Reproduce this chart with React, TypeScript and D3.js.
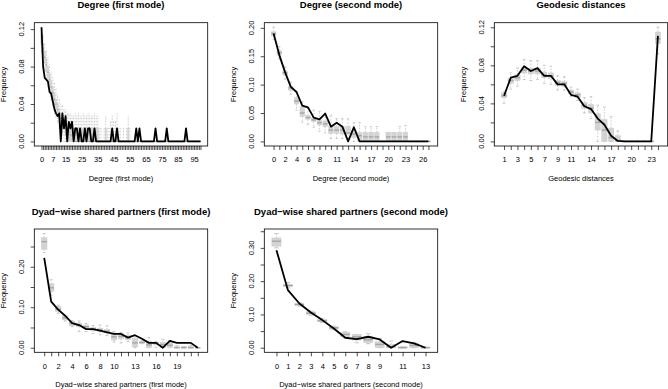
import * as d3 from 'd3';
import { useEffect, useRef } from 'react';

// ---- Degree (first mode): positions 0..99 ----
const degree1Count = 100;
const degree1ObsHead = [0.122, 0.080, 0.068, 0.066, 0.064, 0.053, 0.051, 0.043, 0.035, 0.030,
  0.027, 0.030, 0.000, 0.030, 0.014, 0.027, 0.000, 0.021, 0.014, 0.021,
  0.000, 0.014, 0.014, 0.000, 0.014, 0.000, 0.000, 0.014, 0.000, 0.014,
  0.014, 0.000, 0.000, 0.014, 0.000];
const degree1Spikes = [44, 47, 59, 61, 71, 78, 90];
const degree1SpikeValue = 0.014;
const degree1Lo = [0.095, 0.085, 0.075, 0.066, 0.058, 0.052, 0.044, 0.038, 0.030, 0.025, 0.020, 0.014, 0.010, 0.007];
const degree1Q1 = [0.104, 0.093, 0.084, 0.075, 0.068, 0.060, 0.052, 0.046, 0.040, 0.034, 0.029, 0.024, 0.019, 0.014, 0.014, 0.007, 0.007];
const degree1Med = [0.110, 0.099, 0.090, 0.082, 0.074, 0.066, 0.058, 0.052, 0.045, 0.040, 0.034, 0.029, 0.025, 0.021, 0.018, 0.014, 0.014, 0.010, 0.007, 0.007, 0.007];
const degree1Q3 = [0.115, 0.104, 0.096, 0.088, 0.080, 0.072, 0.064, 0.058, 0.051, 0.045,
  0.040, 0.034, 0.030, 0.027, 0.024, 0.021, 0.018, 0.014, 0.014, 0.014,
  0.014, 0.014, 0.014, 0.014, 0.014, 0.014, 0.014, 0.014, 0.014, 0.014,
  0.014, 0.014, 0.014, 0.014, 0.014, 0.014, 0.000, 0.000, 0.000, 0.000,
  0.014, 0.000, 0.000, 0.000, 0.007, 0.000, 0.000, 0.014, 0.000, 0.000,
  0.000, 0.000, 0.000, 0.000, 0.014, 0.000];
const degree1Hi = [0.122, 0.113, 0.105, 0.097, 0.090, 0.082, 0.074, 0.068, 0.062, 0.056,
  0.050, 0.045, 0.040, 0.038, 0.034, 0.034, 0.030, 0.030, 0.030, 0.027,
  0.027, 0.030, 0.027, 0.030, 0.027, 0.027, 0.030, 0.027, 0.027, 0.030,
  0.027, 0.027, 0.027, 0.030, 0.027, 0.027, 0.014, 0.014, 0.000, 0.014,
  0.027, 0.014, 0.014, 0.021, 0.027, 0.021, 0.021, 0.030, 0.014, 0.014,
  0.000, 0.014, 0.000, 0.014, 0.027, 0.014];
const degree1XLabels = [0, 7, 15, 25, 35, 45, 55, 65, 75, 85, 95];
const degree1YTicks = [0, 0.02, 0.04, 0.06, 0.08, 0.10, 0.12];
const degree1YLabels = [0, 0.04, 0.08, 0.12];

// ---- Degree (second mode): positions 0..27 ----
const degree2Obs = [0.190, 0.152, 0.122, 0.096, 0.087, 0.063, 0.060, 0.042, 0.039, 0.049,
  0.026, 0.033, 0.026, 0.000, 0.025, 0, 0, 0, 0, 0, 0, 0, 0, 0, 0, 0, 0, 0];
const degree2Lo = [0.180, 0.145, 0.110, 0.083, 0.055, 0.034, 0.030, 0.025, 0.018, 0.015,
  0.005, 0.005, 0.005, 0.005, 0, 0, 0, 0, 0, 0, 0, 0, 0, 0, 0, 0, 0, 0];
const degree2Q1 = [0.186, 0.152, 0.117, 0.090, 0.066, 0.044, 0.039, 0.035, 0.029, 0.026,
  0.014, 0.014, 0.013, 0.013, 0.007, 0, 0, 0, 0, 0, 0, 0, 0, 0, 0, 0, 0, 0];
const degree2Med = [0.190, 0.156, 0.121, 0.094, 0.071, 0.050, 0.042, 0.038, 0.033, 0.031,
  0.020, 0.020, 0.020, 0.015, 0.013, 0.010, 0.008, 0.008, 0.008, 0, 0.008, 0.008, 0.008, 0.008, 0, 0, 0, 0];
const degree2Q3 = [0.193, 0.160, 0.124, 0.097, 0.077, 0.061, 0.046, 0.042, 0.038, 0.036,
  0.026, 0.026, 0.026, 0.026, 0.020, 0.016, 0.016, 0.016, 0.016, 0, 0.016, 0.016, 0.016, 0.016, 0, 0, 0, 0];
const degree2Hi = [0.201, 0.167, 0.131, 0.104, 0.087, 0.070, 0.058, 0.055, 0.053, 0.050,
  0.046, 0.040, 0.040, 0.040, 0.033, 0.033, 0.026, 0.026, 0.026, 0, 0.016, 0.016, 0.026, 0.028, 0, 0, 0, 0];
const degree2XLabels = [0, 2, 4, 6, 8, 11, 14, 17, 20, 23, 26];
const degree2YTicks = [0, 0.05, 0.10, 0.15, 0.20];
const degree2YLabels = [0, 0.05, 0.10, 0.15, 0.20];

// ---- Geodesic distances: positions 1..24 ----
const geoObs = [0.048, 0.067, 0.069, 0.079, 0.074, 0.077, 0.069, 0.069, 0.060, 0.060,
  0.049, 0.047, 0.037, 0.034, 0.024, 0.0175, 0.006, 0.0005, 0, 0, 0, 0, 0, 0.111];
const geoLo = [0.040, 0.055, 0.058, 0.065, 0.064, 0.065, 0.061, 0.060, 0.054, 0.054,
  0.047, 0.043, 0.030, 0.024, 0, 0, 0, 0, 0, 0, 0, 0, 0, 0.092];
const geoQ1 = [0.046, 0.061, 0.064, 0.072, 0.071, 0.071, 0.067, 0.066, 0.059, 0.058,
  0.050, 0.046, 0.035, 0.030, 0.012, 0, 0, 0, 0, 0, 0, 0, 0, 0.103];
const geoMed = [0.048, 0.064, 0.067, 0.075, 0.074, 0.074, 0.070, 0.069, 0.062, 0.061,
  0.052, 0.049, 0.038, 0.035, 0.020, 0.012, 0.004, 0.001, 0, 0, 0, 0, 0, 0.108];
const geoQ3 = [0.051, 0.066, 0.070, 0.078, 0.077, 0.077, 0.073, 0.072, 0.064, 0.063,
  0.054, 0.051, 0.041, 0.039, 0.029, 0.023, 0.014, 0.006, 0, 0, 0, 0, 0, 0.115];
const geoHi = [0.052, 0.072, 0.077, 0.086, 0.085, 0.085, 0.080, 0.079, 0.069, 0.068,
  0.057, 0.055, 0.046, 0.047, 0.038, 0.036, 0.026, 0.011, 0, 0, 0, 0, 0, 0.120];
const geoXLabels = [1, 3, 5, 7, 9, 11, 14, 17, 20, 23];
const geoYTicks = [0, 0.02, 0.04, 0.06, 0.08, 0.10, 0.12];
const geoYLabels = [0, 0.04, 0.08, 0.12];

// ---- Dyad-wise shared partners (first mode): positions 0..22 ----
const dsp1Obs = [0.222, 0.114, 0.094, 0.079, 0.061, 0.056, 0.046, 0.046, 0.042, 0.038,
  0.034, 0.034, 0.025, 0.031, 0.022, 0.012, 0.012, 0.000, 0.017, 0.012, 0.012, 0.012, 0];
const dsp1Lo = [0.235, 0.130, 0.085, 0.066, 0.052, 0.040, 0.040, 0.035, 0.032, 0.030,
  0.014, 0.012, 0.015, 0, 0.010, 0, 0, 0, 0, 0, 0, 0, 0];
const dsp1Q1 = [0.243, 0.139, 0.090, 0.069, 0.054, 0.052, 0.048, 0.042, 0.040, 0.037,
  0.019, 0.022, 0.020, 0.002, 0.011, 0, 0.008, 0, 0, 0, 0, 0, 0];
const dsp1Med = [0.262, 0.148, 0.095, 0.074, 0.060, 0.055, 0.052, 0.046, 0.044, 0.041,
  0.027, 0.028, 0.025, 0.012, 0.013, 0.007, 0.012, 0.008, 0.006, 0, 0, 0, 0];
const dsp1Q3 = [0.272, 0.158, 0.102, 0.079, 0.065, 0.061, 0.056, 0.050, 0.048, 0.045,
  0.034, 0.035, 0.030, 0.023, 0.015, 0.015, 0.013, 0.013, 0.012, 0.003, 0.003, 0.004, 0];
const dsp1Hi = [0.282, 0.168, 0.105, 0.080, 0.067, 0.066, 0.060, 0.055, 0.056, 0.054,
  0.040, 0.038, 0.036, 0.030, 0.017, 0.025, 0.015, 0.020, 0.018, 0.005, 0.003, 0.006, 0];
const dsp1XLabels = [0, 2, 4, 6, 8, 10, 13, 16, 19];
const dsp1YTicks = [0, 0.05, 0.10, 0.15, 0.20, 0.25];
const dsp1YLabels = [0, 0.10, 0.20];

// ---- Dyad-wise shared partners (second mode): positions 0..13 ----
const dsp2Obs = [0.293, 0.173, 0.133, 0.106, 0.083, 0.058, 0.030, 0.026, 0.033, 0.025, 0.000, 0.020, 0.013, 0.000];
const dsp2Lo = [0.300, 0.180, 0.125, 0.098, 0.076, 0.054, 0.030, 0.015, 0.012, 0, 0, 0, 0, 0];
const dsp2Q1 = [0.305, 0.183, 0.127, 0.100, 0.078, 0.056, 0.033, 0.023, 0.015, 0, 0, 0, 0, 0];
const dsp2Med = [0.320, 0.187, 0.130, 0.104, 0.081, 0.060, 0.040, 0.033, 0.024, 0.010, 0.003, 0, 0.007, 0];
const dsp2Q3 = [0.330, 0.190, 0.133, 0.108, 0.085, 0.063, 0.046, 0.040, 0.033, 0.018, 0.010, 0.003, 0.013, 0.002];
const dsp2Hi = [0.343, 0.196, 0.135, 0.110, 0.087, 0.065, 0.048, 0.040, 0.042, 0.028, 0.020, 0.003, 0.015, 0.002];
const dsp2XLabels = [0, 1, 2, 3, 4, 5, 6, 7, 8, 9, 11, 13];
const dsp2YTicks = [0, 0.05, 0.10, 0.15, 0.20, 0.25, 0.30, 0.35];
const dsp2YLabels = [0, 0.10, 0.20, 0.30];

const padZeros = (arr: number[], n: number) => arr.concat(new Array(Math.max(0, n - arr.length)).fill(0));

const degree1Obs = padZeros(degree1ObsHead, degree1Count).map((v, i) => degree1Spikes.includes(i) ? degree1SpikeValue : v);

const panels = [
  { title: 'Degree (first mode)', first: 0, obs: degree1Obs,
    lo: padZeros(degree1Lo, degree1Count), q1: padZeros(degree1Q1, degree1Count), med: padZeros(degree1Med, degree1Count),
    q3: padZeros(degree1Q3, degree1Count), hi: padZeros(degree1Hi, degree1Count),
    xLabels: degree1XLabels, yTicks: degree1YTicks, yLabels: degree1YLabels, col: 0, row: 0 },
  { title: 'Degree (second mode)', first: 0, obs: degree2Obs, lo: degree2Lo, q1: degree2Q1, med: degree2Med, q3: degree2Q3, hi: degree2Hi,
    xLabels: degree2XLabels, yTicks: degree2YTicks, yLabels: degree2YLabels, col: 1, row: 0 },
  { title: 'Geodesic distances', first: 1, obs: geoObs, lo: geoLo, q1: geoQ1, med: geoMed, q3: geoQ3, hi: geoHi,
    xLabels: geoXLabels, yTicks: geoYTicks, yLabels: geoYLabels, col: 2, row: 0 },
  { title: 'Dyad\u2212wise shared partners (first mode)', first: 0, obs: dsp1Obs, lo: dsp1Lo, q1: dsp1Q1, med: dsp1Med, q3: dsp1Q3, hi: dsp1Hi,
    xLabels: dsp1XLabels, yTicks: dsp1YTicks, yLabels: dsp1YLabels, col: 0, row: 1 },
  { title: 'Dyad\u2212wise shared partners (second mode)', first: 0, obs: dsp2Obs, lo: dsp2Lo, q1: dsp2Q1, med: dsp2Med, q3: dsp2Q3, hi: dsp2Hi,
    xLabels: dsp2XLabels, yTicks: dsp2YTicks, yLabels: dsp2YLabels, col: 1, row: 1 },
];

const W = 668;
const H = 389;
const colLeft = [34.3, 264.3, 494.3];
const rowTop = [22.7, 229];
const plotW = 173.4;
const plotH = 123.3;
const FONT = "'Liberation Sans', Arial, Helvetica, sans-serif";

export default function App() {
  const svgRef = useRef<SVGSVGElement>(null);

  useEffect(() => {
    const svg = d3.select(svgRef.current);
    svg.selectAll('*').remove();

    panels.forEach((p) => {
      const left = colLeft[p.col];
      const top = rowTop[p.row];
      const n = p.obs.length;
      const pos = d3.range(n).map((i) => p.first + i);

      // boxplot-style limits (half a slot each side) plus R's 4% extension
      const ext = 0.5 + 0.04 * n;
      const x = d3.scaleLinear().domain([p.first - ext, p.first + n - 1 + ext]).range([left, left + plotW]);
      const ymax = d3.max([...p.obs, ...p.hi]) as number;
      const y = d3.scaleLinear().domain([-0.04 * ymax, 1.04 * ymax]).range([top + plotH, top]);

      const stats = pos.map((v, i) => ({ v, lo: p.lo[i], q1: p.q1[i], med: p.med[i], q3: p.q3[i], hi: p.hi[i] }));
      const g = svg.append('g');

      // dashed whiskers
      g.selectAll('line.whisk')
        .data(stats.flatMap((s) => [{ v: s.v, a: s.q3, b: s.hi }, { v: s.v, a: s.q1, b: s.lo }]).filter((d) => d.a !== d.b))
        .join('line')
        .attr('class', 'whisk')
        .attr('x1', (d) => x(d.v)).attr('x2', (d) => x(d.v))
        .attr('y1', (d) => y(d.a)).attr('y2', (d) => y(d.b))
        .attr('stroke', '#b8b8b8')
        .attr('stroke-width', 0.7)
        .attr('stroke-dasharray', '1.6,1.4');

      // staples
      g.selectAll('line.staple')
        .data(stats.flatMap((s) => [{ v: s.v, w: s.hi }, { v: s.v, w: s.lo }]))
        .join('line')
        .attr('class', 'staple')
        .attr('x1', (d) => x(d.v - 0.2)).attr('x2', (d) => x(d.v + 0.2))
        .attr('y1', (d) => y(d.w)).attr('y2', (d) => y(d.w))
        .attr('stroke', '#b0b0b0')
        .attr('stroke-width', 0.7);

      // boxes
      g.selectAll('rect.box')
        .data(stats.filter((s) => s.q3 > s.q1))
        .join('rect')
        .attr('class', 'box')
        .attr('x', (d) => x(d.v - 0.4))
        .attr('width', (d) => x(d.v + 0.4) - x(d.v - 0.4))
        .attr('y', (d) => y(d.q3))
        .attr('height', (d) => y(d.q1) - y(d.q3))
        .attr('fill', '#d3d3d3')
        .attr('stroke', '#cdcdcd')
        .attr('stroke-width', 0.5);

      // medians
      g.selectAll('line.med')
        .data(stats)
        .join('line')
        .attr('class', 'med')
        .attr('x1', (d) => x(d.v - 0.4)).attr('x2', (d) => x(d.v + 0.4))
        .attr('y1', (d) => y(d.med)).attr('y2', (d) => y(d.med))
        .attr('stroke', '#a6a6a6')
        .attr('stroke-width', 1.4);

      // observed network statistics
      const line = d3.line<number>().x((_, i) => x(pos[i])).y((d) => y(d));
      g.append('path')
        .attr('d', line(p.obs))
        .attr('fill', 'none')
        .attr('stroke', '#000')
        .attr('stroke-width', 1.8)
        .attr('stroke-linejoin', 'round');

      // frame
      g.append('rect')
        .attr('x', left).attr('y', top)
        .attr('width', plotW).attr('height', plotH)
        .attr('fill', 'none')
        .attr('stroke', '#000')
        .attr('stroke-width', 0.8);

      // x axis: a tick for every slot, labels only where R had room
      const xAxis = d3.axisBottom(x)
        .tickValues(pos)
        .tickSize(4)
        .tickFormat((d) => (p.xLabels.includes(d as number) ? String(d) : ''));
      const gx = g.append('g').attr('transform', `translate(0,${top + plotH})`).call(xAxis);
      gx.select('.domain').remove();
      gx.selectAll('line').attr('stroke', '#000').attr('stroke-width', 0.7);
      gx.selectAll('text')
        .attr('y', 16.3).attr('dy', null)
        .attr('fill', '#000')
        .style('font', `7.5px ${FONT}`);

      // y axis ticks, labels turned vertical
      const yAxis = d3.axisLeft(y).tickValues(p.yTicks).tickSize(3.6).tickFormat(() => '');
      const gy = g.append('g').attr('transform', `translate(${left},0)`).call(yAxis);
      gy.select('.domain').remove();
      gy.selectAll('line').attr('stroke', '#000').attr('stroke-width', 0.7);

      g.selectAll('text.ylab')
        .data(p.yLabels)
        .join('text')
        .attr('class', 'ylab')
        .attr('transform', (d) => `translate(${left - 10},${y(d)}) rotate(-90)`)
        .attr('text-anchor', 'middle')
        .style('font', `7.5px ${FONT}`)
        .text((d) => d3.format('.2f')(d));

      g.append('text')
        .attr('transform', `translate(${left - 28.5},${top + plotH / 2}) rotate(-90)`)
        .attr('text-anchor', 'middle')
        .style('font', `7.5px ${FONT}`)
        .text('Frequency');

      g.append('text')
        .attr('x', left + plotW / 2)
        .attr('y', top + plotH + 34.5)
        .attr('text-anchor', 'middle')
        .style('font', `7.5px ${FONT}`)
        .text(p.title);

      g.append('text')
        .attr('x', left + plotW / 2)
        .attr('y', top - 14.3)
        .attr('text-anchor', 'middle')
        .style('font', `bold 9.5px ${FONT}`)
        .text(p.title);
    });
  }, []);

  return (
    <svg
      ref={svgRef}
      width={W}
      height={H}
      style={{ position: 'absolute', left: 0, top: 0, background: '#fff' }}
    />
  );
}
